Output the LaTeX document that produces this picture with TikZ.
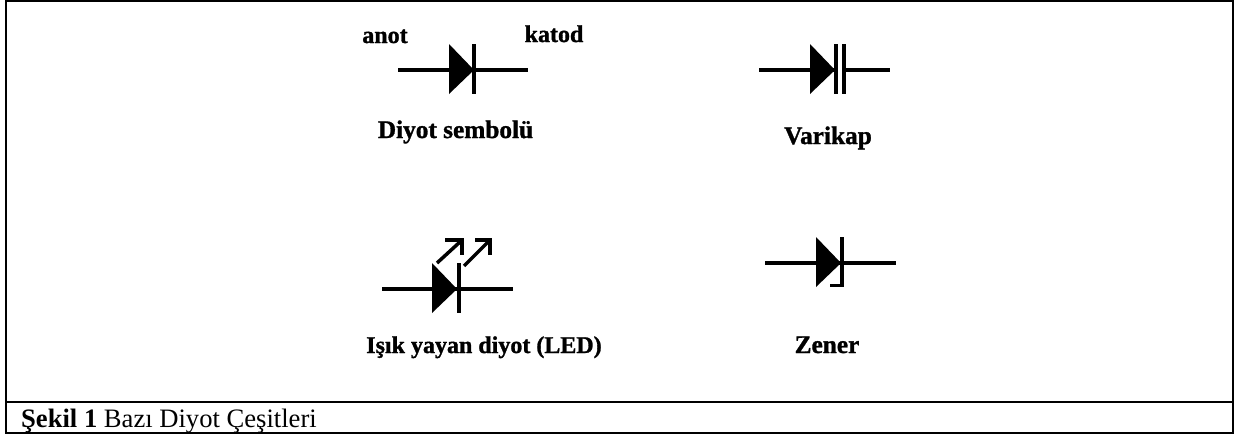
\documentclass[tikz,border=0pt]{standalone}
\usepackage{fontspec}
\setmainfont{Liberation Serif}
\newfontfamily\heavy[FakeBold=1.2]{Liberation Serif Bold}
\begin{document}
\begin{tikzpicture}[x=1pt,y=-1pt,
  frameline/.style={line width=2pt,black},
  lead/.style={line width=4pt,black},
  bar/.style={line width=4pt,black},
  ray/.style={line width=3.5pt,black},
  lbl/.style={inner sep=0pt,anchor=base,font=\fontsize{24}{24}\selectfont\heavy},
  lblb/.style={inner sep=0pt,anchor=base,font=\fontsize{25.3}{25}\selectfont\heavy},
  captiontext/.style={inner sep=0pt,anchor=base west,font=\fontsize{26.6}{27}\selectfont}]
\useasboundingbox (0,0) rectangle (1234,434);
\draw[frameline] (6,1) -- (1233,1) -- (1233,433) -- (6,433) -- cycle;
\draw[frameline,line width=2.5pt] (6,402) -- (1233,402);
\node[captiontext] (caption) at (21,427) {\textbf{Şekil 1} Bazı Diyot Çeşitleri};
% diode symbol
\draw[lead] (398,70) -- (528,70);
\fill (449,44) -- (474,70) -- (449,94) -- cycle;
\draw[bar] (474,44) -- (474,94);
\node[lbl] (anot) at (385,43) {anot};
\node[lbl] (katod) at (554,42) {katod};
\node[lblb] (d1) at (455.5,138) {Diyot sembolü};
% varikap
\draw[lead] (759,70) -- (836,70) (844,70) -- (890,70);
\fill (810,44) -- (835,70) -- (810,94) -- cycle;
\draw[bar] (836,44) -- (836,94);
\draw[bar] (844,44) -- (844,94);
\node[lblb] (d2) at (828,144) {Varikap};
% LED
\draw[lead] (382,289) -- (513,289);
\fill (432,263) -- (457,289) -- (432,313) -- cycle;
\draw[bar] (458.5,263) -- (458.5,313);
\draw[ray] (437,263) -- (461,241);
\draw[ray] (445,240) -- (462,240) -- (462,255);
\draw[ray] (464,266) -- (489,241);
\draw[ray] (475,240) -- (490,240) -- (490,255);
\node[lbl] (d3) at (484,353) {Işık yayan diyot (LED)};
% zener
\draw[lead] (765,263) -- (896,263);
\fill (816,237) -- (841,263) -- (816,287) -- cycle;
\draw[bar] (841.5,237) -- (841.5,287);
\draw[ray] (830,285.5) -- (843,285.5);
\node[lblb] (d4) at (827,353) {Zener};
\end{tikzpicture}
\end{document}
